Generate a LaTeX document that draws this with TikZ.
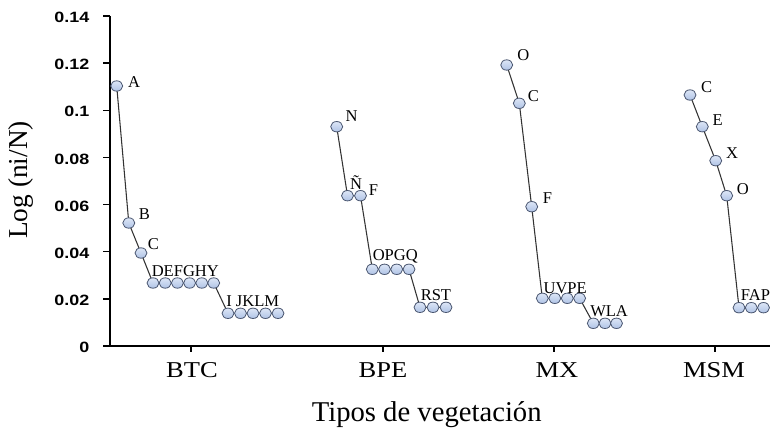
\documentclass[tikz,border=0pt]{standalone}
\usepackage{fontspec}
\setmainfont{Liberation Serif}
\newfontfamily\tickfont[FakeStretch=1.2]{Liberation Sans}
\newfontfamily\catfont[FakeStretch=1.17]{Liberation Serif}
\usetikzlibrary{shapes.geometric,backgrounds}
\definecolor{pttop}{HTML}{DDE6F6}
\definecolor{ptbot}{HTML}{AFC3E6}
\definecolor{ptedge}{HTML}{4A5670}
\definecolor{connc}{HTML}{333333}
\tikzset{
  axisline/.style={draw=black,line width=1pt},
  conn/.style={draw=connc,line width=0.8pt},
  pt/.style={ellipse,draw=ptedge,line width=0.6pt,top color=pttop,bottom color=ptbot,
             minimum width=9pt,minimum height=7.8pt,inner sep=0pt},
  lab/.style={inner sep=0pt,font=\fontsize{12.4}{14}\selectfont,anchor=base},
  rowlab/.style={lab,anchor=base west},
  ticklab/.style={inner sep=0pt,anchor=east,font=\tickfont\bfseries\fontsize{11.2}{13}\selectfont},
  catlab/.style={inner sep=0pt,anchor=base,font=\catfont\fontsize{17}{20}\selectfont},
}
\begin{document}
\begin{tikzpicture}[x=0.75pt,y=-0.75pt]
\useasboundingbox (0,0) rectangle (770,428);
\clip (0,0) rectangle (770,428);
% axes
\coordinate (ytop) at (110,16);
\coordinate (orig) at (110,346);
\coordinate (xend) at (770,346);
\draw[axisline] (ytop) -- (orig) -- (xend);
\foreach \i in {0,...,7} \draw[axisline] (103,{346-47.14*\i}) -- (110,{346-47.14*\i});
\foreach \v [count=\i from 0] in {0,0.02,0.04,0.06,0.08,0.1,0.12,0.14}
  \node[ticklab] (tk\i) at (89.5,{347.5-47.14*\i}) {\v};
\foreach \x in {191,383,554,715} \draw[axisline] (\x,346) -- (\x,352);
% category labels
\node[catlab] (cBTC) at (192,377) {BTC};
\node[catlab] (cBPE) at (383,377) {BPE};
\node[catlab] (cMX) at (557,377) {MX};
\node[catlab] (cMSM) at (714,377) {MSM};
% axis titles
\node[inner sep=0pt,anchor=base,font=\fontsize{21.5}{24}\selectfont] (xtitle) at (426.7,421.7) {Tipos de vegetación};
\node[inner sep=0pt,rotate=90,font=\fontsize{20.5}{24}\selectfont] (ytitle) at (21,180) {Log (ni/N)};
% BTC points
\node[pt] (b1) at (116.7,86) {};
\node[pt] (b2) at (128.8,223) {};
\node[pt] (b3) at (141,253) {};
\node[pt] (b4) at (153,283) {};
\node[pt] (b5) at (165.2,283) {};
\node[pt] (b6) at (177.4,283) {};
\node[pt] (b7) at (189.6,283) {};
\node[pt] (b8) at (201.8,283) {};
\node[pt] (b9) at (213.7,283) {};
\node[pt] (b10) at (228,313.3) {};
\node[pt] (b11) at (240.5,313.3) {};
\node[pt] (b12) at (253,313.3) {};
\node[pt] (b13) at (265.5,313.3) {};
\node[pt] (b14) at (278,313.3) {};
% BPE points
\node[pt] (p1) at (336.7,126.7) {};
\node[pt] (p2) at (347.5,195.7) {};
\node[pt] (p3) at (360.5,195.7) {};
\node[pt] (p4) at (372.3,269.3) {};
\node[pt] (p5) at (384.5,269.3) {};
\node[pt] (p6) at (396.7,269.3) {};
\node[pt] (p7) at (409,269.3) {};
\node[pt] (p8) at (420,307.3) {};
\node[pt] (p9) at (433,307.3) {};
\node[pt] (p10) at (446,307.3) {};
% MX points
\node[pt] (m1) at (506.7,65) {};
\node[pt] (m2) at (519.3,103.3) {};
\node[pt] (m3) at (531.7,206.7) {};
\node[pt] (m4) at (542.3,298.3) {};
\node[pt] (m5) at (554.8,298.3) {};
\node[pt] (m6) at (567.3,298.3) {};
\node[pt] (m7) at (579.6,298.3) {};
\node[pt] (m8) at (593.3,323.3) {};
\node[pt] (m9) at (605,323.3) {};
\node[pt] (m10) at (616.5,323.3) {};
% MSM points
\node[pt] (s1) at (690,95) {};
\node[pt] (s2) at (702.3,126.7) {};
\node[pt] (s3) at (715.7,160.7) {};
\node[pt] (s4) at (726.7,195.7) {};
\node[pt] (s5) at (739,307.7) {};
\node[pt] (s6) at (751.3,307.7) {};
\node[pt] (s7) at (763.5,307.7) {};
% connectors
\begin{scope}[on background layer]
\draw[conn] (b1.center) -- (b2.center) -- (b3.center) -- (b4.center) -- (b5.center) -- (b6.center) -- (b7.center) -- (b8.center) -- (b9.center) -- (b10.center) -- (b11.center) -- (b12.center) -- (b13.center) -- (b14.center);
\draw[conn] (p1.center) -- (p2.center) -- (p3.center) -- (p4.center) -- (p5.center) -- (p6.center) -- (p7.center) -- (p8.center) -- (p9.center) -- (p10.center);
\draw[conn] (m1.center) -- (m2.center) -- (m3.center) -- (m4.center) -- (m5.center) -- (m6.center) -- (m7.center) -- (m8.center) -- (m9.center) -- (m10.center);
\draw[conn] (s1.center) -- (s2.center) -- (s3.center) -- (s4.center) -- (s5.center) -- (s6.center) -- (s7.center);
\end{scope}
% BTC labels
\node[lab] (lbA) at (134,87.3) {A};
\node[lab] (lbB) at (144.3,219.3) {B};
\node[lab] (lbC) at (153.3,249.3) {C};
\node[rowlab] (lbD) at (151.5,276) {DEFGHY};
\node[rowlab] (lbI) at (226,306) {I JKLM};
% BPE labels
\node[lab] (lpN) at (351.7,121.7) {N};
\node[lab] (lpNt) at (356.2,189.3) {Ñ};
\node[lab] (lpF) at (373.5,195) {F};
\node[rowlab] (lpO) at (372.5,260.5) {OPGQ};
\node[rowlab] (lpR) at (420.5,300) {RST};
% MX labels
\node[lab] (lmO) at (523.3,60.7) {O};
\node[lab] (lmC) at (533.3,101) {C};
\node[lab] (lmF) at (547.5,203.3) {F};
\node[rowlab] (lmU) at (543.3,293) {UVPE};
\node[rowlab] (lmW) at (590,316.7) {WLA};
% MSM labels
\node[lab] (lsC) at (706.7,92.7) {C};
\node[lab] (lsE) at (717.7,125) {E};
\node[lab] (lsX) at (732,158.3) {X};
\node[lab] (lsO) at (742.8,194) {O};
\node[rowlab] (lsF) at (740.7,300) {FAP};
\end{tikzpicture}
\end{document}
